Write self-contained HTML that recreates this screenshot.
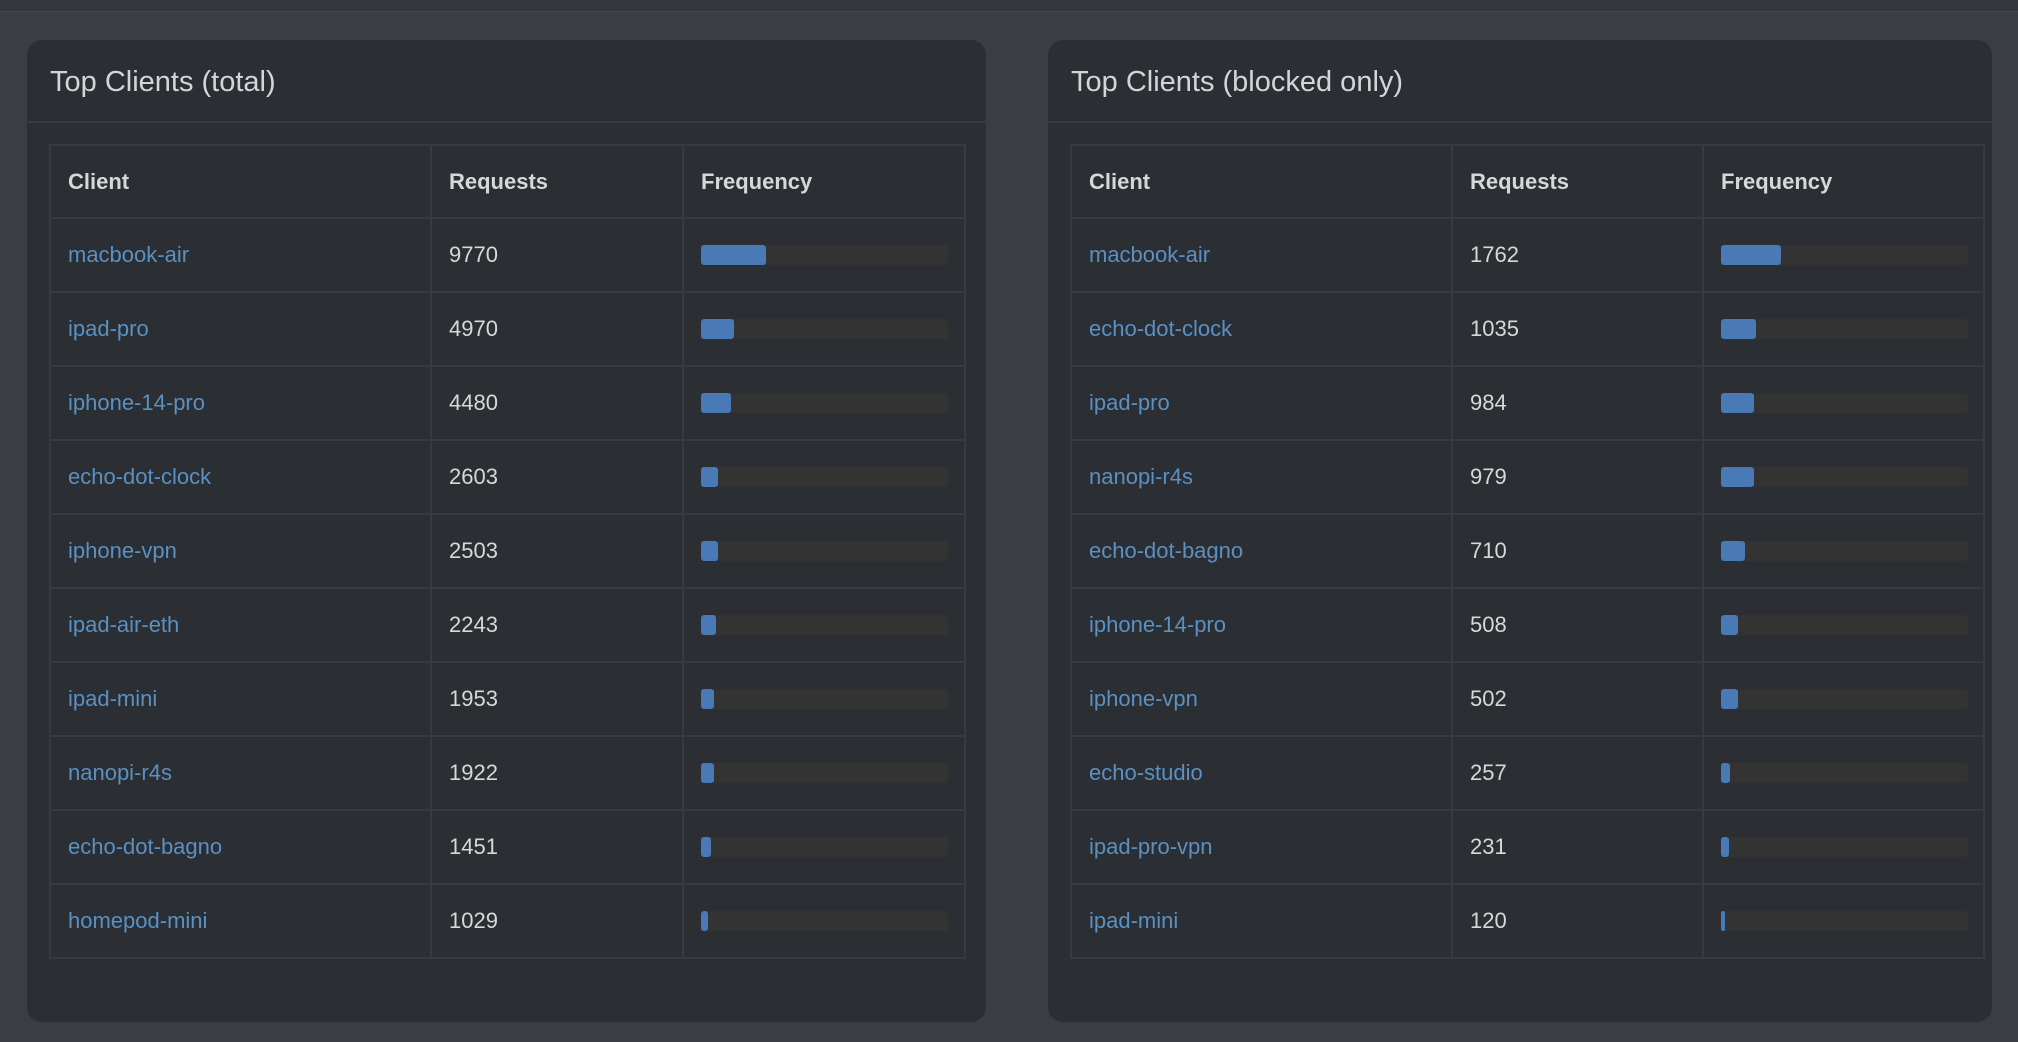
<!DOCTYPE html>
<html><head><meta charset="utf-8">
<style>
html,body{margin:0;padding:0;width:2018px;height:1042px;overflow:hidden;background:#3a3e43;font-family:"Liberation Sans",sans-serif;}
.topbar{position:absolute;left:0;top:0;width:2018px;height:11px;background:#33373b;border-bottom:1px solid #44484d;}
.card{position:absolute;top:40px;width:959px;height:982px;background:#2b2e33;border-radius:15px;}
.title{position:absolute;left:23px;top:24px;font-size:29px;color:#d3d5d8;line-height:36px;}
.divider{position:absolute;left:0;right:0;top:81px;height:2px;background:#373b40;}
table{position:absolute;left:22px;top:104px;width:915px;border-collapse:collapse;table-layout:fixed;}
td,th{border:2px solid #373b40;height:72px;padding:0 0 0 17px;text-align:left;font-size:22px;color:#d8d8d8;}
th{height:71px;font-weight:bold;font-size:22px;color:#d6d7d9;}
td.c{color:#5a90c2;}
.track{width:247px;height:20px;background:#333333;border-radius:3px;position:relative;}
.fill{position:absolute;left:0;top:0;height:20px;background:#4a7ab6;border-radius:3px;}
</style></head><body>
<div class="topbar"></div>
<div class="card" style="left:27px">
 <div class="title">Top Clients (total)</div>
 <div class="divider"></div>
 <table id="t1"><colgroup><col style="width:381px"><col style="width:252px"><col style="width:282px"></colgroup><thead><tr>
  <th>Client</th>
  <th>Requests</th>
  <th>Frequency</th></tr></thead><tbody></tbody></table>
</div>
<div class="card" style="left:1048px;width:944px">
 <div class="title">Top Clients (blocked only)</div>
 <div class="divider"></div>
 <table id="t2" style="width:913px"><colgroup><col style="width:381px"><col style="width:251px"><col style="width:281px"></colgroup><thead><tr>
  <th>Client</th>
  <th>Requests</th>
  <th>Frequency</th></tr></thead><tbody></tbody></table>
</div>
<script>
const totalClients=["macbook-air","ipad-pro","iphone-14-pro","echo-dot-clock","iphone-vpn","ipad-air-eth","ipad-mini","nanopi-r4s","echo-dot-bagno","homepod-mini"];
const totalRequests=[9770,4970,4480,2603,2503,2243,1953,1922,1451,1029];
const totalDenominator=37200;
const blockedClients=["macbook-air","echo-dot-clock","ipad-pro","nanopi-r4s","echo-dot-bagno","iphone-14-pro","iphone-vpn","echo-studio","ipad-pro-vpn","ipad-mini"];
const blockedRequests=[1762,1035,984,979,710,508,502,257,231,120];
const blockedDenominator=7300;
function fill(id,names,vals,den){
  const tb=document.querySelector('#'+id+' tbody');
  names.forEach((n,i)=>{
    const tr=document.createElement('tr');
    
    
    const a=document.createElement('td');a.className='c';a.textContent=n;
    
    
    const b=document.createElement('td');b.textContent=vals[i];
    
    
    const c=document.createElement('td');
    
    
    const tk=document.createElement('div');tk.className='track';
    
    
    const f=document.createElement('div');f.className='fill';
    
    
    f.style.width=Math.max(3,vals[i]/den*247)+'px';
    tk.appendChild(f);c.appendChild(tk);
    tr.appendChild(a);tr.appendChild(b);tr.appendChild(c);tb.appendChild(tr);
  });
}
fill('t1',totalClients,totalRequests,totalDenominator);
fill('t2',blockedClients,blockedRequests,blockedDenominator);
</script>
</body></html>
